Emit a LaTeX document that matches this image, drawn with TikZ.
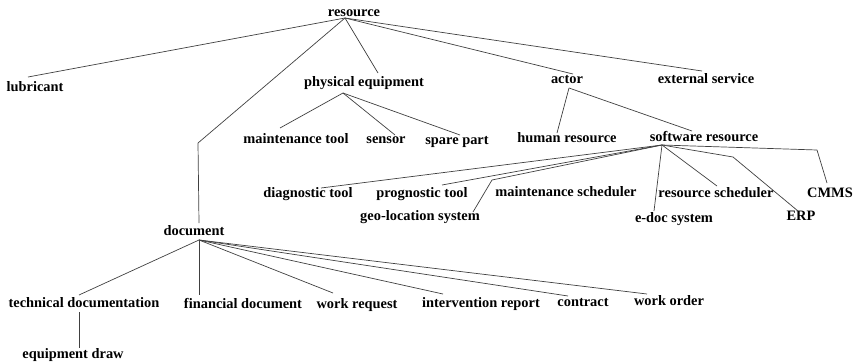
\documentclass[tikz,border=0pt]{standalone}
\usepackage{fontspec}
\setmainfont{Liberation Serif}
\begin{document}
\begin{tikzpicture}[x=1pt,y=-1pt,
  lbl/.style={font=\bfseries\fontsize{14.4}{16}\selectfont, anchor=base, inner sep=0pt},
  link/.style={draw=black!75, line width=0.7pt, line join=round}]
\useasboundingbox (0,0) rectangle (854,362);

% labels (placed at their baselines)
\node[lbl] (resource)  at (354,16)  {resource};
\node[lbl] (lubricant) at (35,91)   {lubricant};
\node[lbl] (physical)  at (364,86)  {physical equipment};
\node[lbl] (actor)     at (567,83)  {actor};
\node[lbl] (external)  at (706,83)  {external service};
\node[lbl] (mtool)     at (296,143) {maintenance tool};
\node[lbl] (sensor)    at (386,143) {sensor};
\node[lbl] (spare)     at (457,144) {spare part};
\node[lbl] (human)     at (567,142) {human resource};
\node[lbl] (software)  at (704,141) {software resource};
\node[lbl] (diag)      at (308,197) {diagnostic tool};
\node[lbl] (prog)      at (422,197) {prognostic tool};
\node[lbl] (msched)    at (566,196) {maintenance scheduler};
\node[lbl] (rsched)    at (716,197) {resource scheduler};
\node[lbl] (cmms)      at (830,197) {CMMS};
\node[lbl] (geo)       at (420,220) {geo-location system};
\node[lbl] (edoc)      at (674,222) {e-doc system};
\node[lbl] (erp)       at (801,220) {ERP};
\node[lbl] (document)  at (194,235) {document};
\node[lbl] (techdoc)   at (84,307)  {technical documentation};
\node[lbl] (findoc)    at (243,308) {financial document};
\node[lbl] (wreq)      at (357,308) {work request};
\node[lbl] (interv)    at (481,307) {intervention report};
\node[lbl] (contract)  at (583,306) {contract};
\node[lbl] (worder)    at (669,305) {work order};
\node[lbl] (eqdraw)    at (73,358)  {equipment draw};

% branching points below each parent
\coordinate (resource-hub) at (345,18);
\coordinate (physical-hub) at (343,93);
\coordinate (actor-hub)    at (569,88);
\coordinate (software-hub) at (662,145);
\coordinate (document-hub) at (199,240);
\coordinate (techdoc-hub)  at (79,312);

% line ends above each child
\coordinate (lubricant-top) at (28,77);
\coordinate (document-bend) at (198,143);
\coordinate (document-top)  at (199,223);
\coordinate (physical-top)  at (378,73);
\coordinate (actor-top)     at (573,74);
\coordinate (external-top)  at (702,71);
\coordinate (mtool-top)     at (280,128);
\coordinate (sensor-top)    at (395,135);
\coordinate (spare-top)     at (460,135);
\coordinate (human-top)     at (557,133);
\coordinate (software-top)  at (692,131);
\coordinate (diag-top)      at (321,188);
\coordinate (prog-top)      at (442,185);
\coordinate (geo-bend)      at (492,180);
\coordinate (geo-top)       at (473,212);
\coordinate (edoc-top)      at (654,211);
\coordinate (rsched-top)    at (717,186);
\coordinate (erp-bend)      at (733,157);
\coordinate (erp-top)       at (798,211);
\coordinate (cmms-bend)     at (817,150);
\coordinate (cmms-top)      at (827,183);
\coordinate (techdoc-top)   at (79,295);
\coordinate (findoc-top)    at (199,295);
\coordinate (wreq-top)      at (333,293);
\coordinate (interv-top)    at (443,294);
\coordinate (contract-top)  at (568,296);
\coordinate (worder-top)    at (647,294);
\coordinate (eqdraw-top)    at (79,348);

% resource
\draw[link] (resource-hub) -- (lubricant-top);
\draw[link] (resource-hub) -- (document-bend) -- (document-top);
\draw[link] (resource-hub) -- (physical-top);
\draw[link] (resource-hub) -- (actor-top);
\draw[link] (resource-hub) -- (external-top);
% physical equipment
\draw[link] (physical-hub) -- (mtool-top);
\draw[link] (physical-hub) -- (sensor-top);
\draw[link] (physical-hub) -- (spare-top);
% actor
\draw[link] (actor-hub) -- (human-top);
\draw[link] (actor-hub) -- (software-top);
% software resource
\draw[link] (software-hub) -- (diag-top);
\draw[link] (software-hub) -- (prog-top);
\draw[link] (software-hub) -- (geo-bend) -- (geo-top);
\draw[link] (software-hub) -- (edoc-top);
\draw[link] (software-hub) -- (rsched-top);
\draw[link] (software-hub) -- (erp-bend) -- (erp-top);
\draw[link] (software-hub) -- (cmms-bend) -- (cmms-top);
% document
\draw[link] (document-hub) -- (techdoc-top);
\draw[link] (document-hub) -- (findoc-top);
\draw[link] (document-hub) -- (wreq-top);
\draw[link] (document-hub) -- (interv-top);
\draw[link] (document-hub) -- (contract-top);
\draw[link] (document-hub) -- (worder-top);
% technical documentation
\draw[link] (techdoc-hub) -- (eqdraw-top);
\end{tikzpicture}
\end{document}
